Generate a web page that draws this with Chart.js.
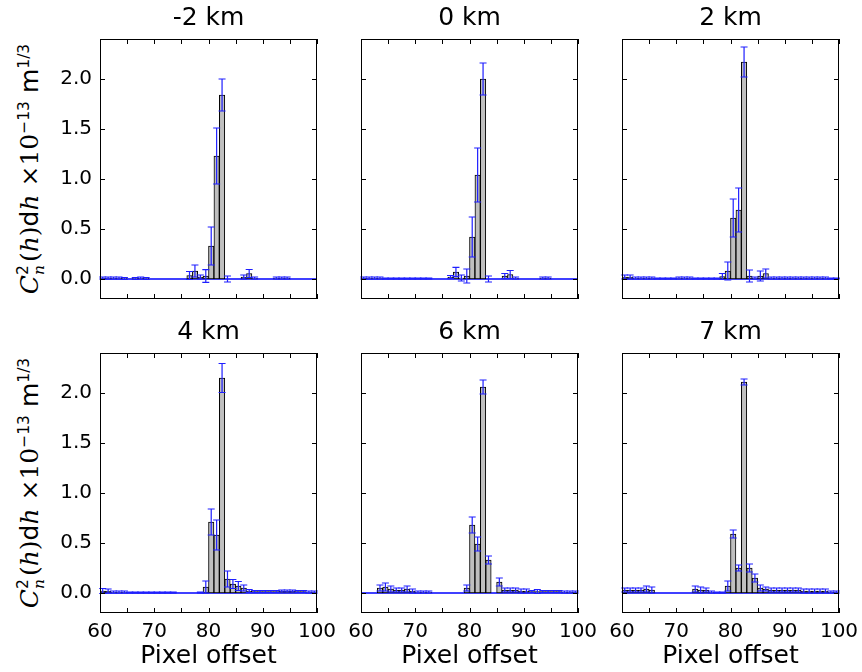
<!DOCTYPE html>
<html>
<head>
<meta charset="utf-8">
<script src="https://cdn.jsdelivr.net/npm/chart.js@4.4.0/dist/chart.umd.min.js"></script>
<style>
html, body { margin: 0; padding: 0; background: #fff; overflow: hidden; }
#wrap { position: relative; width: 862px; height: 672px; }
#wrap canvas { position: absolute; }
.ylab {
    position: absolute;
    font-family: 'DejaVu Sans', sans-serif;
    font-size: 25px;
    color: #000;
    white-space: nowrap;
    transform: translate(-50%, -50%) rotate(-90deg);
}
.ylab .m { font-family: 'DejaVu Serif', serif; }
.ylab .ss { display: inline-flex; flex-direction: column; font-size: 0.62em; line-height: 1; vertical-align: 10px; margin-right: 3px; }
.ylab sup { font-size: 0.62em; }
</style>
</head>
<body>
<div id="wrap">
    <div class="ylab" style="left:31px; top:169px;"><i class="m">C</i><span class="ss"><span>2</span><i class="m">n</i></span><span class="m">(<i>h</i>)</span>d<i class="m">h</i> <span class="m">×10</span><sup>−13</sup> m<sup>1/3</sup></div>
    <div class="ylab" style="left:31px; top:483px;"><i class="m">C</i><span class="ss"><span>2</span><i class="m">n</i></span><span class="m">(<i>h</i>)</span>d<i class="m">h</i> <span class="m">×10</span><sup>−13</sup> m<sup>1/3</sup></div>
</div>
<script>
// bin centres (pixel offset), 1 px bins from 60 to 100
const binCenters = [60.5, 61.5, 62.5, 63.5, 64.5, 65.5, 66.5, 67.5, 68.5, 69.5,
    70.5, 71.5, 72.5, 73.5, 74.5, 75.5, 76.5, 77.5, 78.5, 79.5,
    80.5, 81.5, 82.5, 83.5, 84.5, 85.5, 86.5, 87.5, 88.5, 89.5,
    90.5, 91.5, 92.5, 93.5, 94.5, 95.5, 96.5, 97.5, 98.5, 99.5];

const titles = ['-2 km', '0 km', '2 km', '4 km', '6 km', '7 km'];

const xTicks = [60, 65, 70, 75, 80, 85, 90, 95, 100];
const yTicks = [0, 0.5, 1.0, 1.5, 2.0];
const zeroLine = [{ x: 60, y: 0 }, { x: 100, y: 0 }];

const valsM2 = [0.01, 0.01, 0.01, 0.01, 0.005, 0, 0.005, 0.01, 0.005, 0,
    0, 0, 0, 0, 0, 0, 0.035, 0.08, 0.02, 0.03,
    0.33, 1.23, 1.84, 0, 0, 0, 0.02, 0.055, 0.01, 0,
    0, 0, 0.01, 0.01, 0.01, 0, 0, 0, 0, 0];
const errsM2 = [0.01, 0.01, 0.01, 0.01, 0.01, 0, 0.01, 0.01, 0.01, 0,
    0, 0, 0, 0, 0, 0, 0.04, 0.06, 0.02, 0.063,
    0.19, 0.28, 0.16, 0.03, 0, 0, 0.02, 0.04, 0.01, 0,
    0, 0, 0.01, 0.01, 0.01, 0, 0, 0, 0, 0];

const vals0 = [0.01, 0.01, 0.01, 0.01, 0.005, 0.005, 0.005, 0.005, 0.005, 0.005,
    0.005, 0.005, 0.005, 0, 0, 0, 0.02, 0.07, 0.01, 0.03,
    0.42, 1.04, 2.00, 0, 0, 0, 0.03, 0.045, 0.01, 0,
    0, 0, 0, 0.01, 0.01, 0, 0, 0, 0, 0];
const errs0 = [0.01, 0.01, 0.01, 0.01, 0.005, 0.005, 0.005, 0.005, 0.005, 0.005,
    0.005, 0.005, 0.005, 0, 0, 0, 0.015, 0.047, 0.03, 0.07,
    0.2, 0.27, 0.16, 0.03, 0, 0, 0.025, 0.04, 0.01, 0,
    0, 0, 0, 0.01, 0.01, 0, 0, 0, 0, 0];

const vals2 = [0.02, 0.02, 0.01, 0.01, 0.01, 0.01, 0.005, 0.005, 0.005, 0.005,
    0.01, 0.01, 0.01, 0.005, 0.005, 0.005, 0.005, 0.005, 0.025, 0.08,
    0.61, 0.69, 2.17, 0.03, 0.01, 0.03, 0.055, 0.01, 0.01, 0.01,
    0.01, 0.01, 0.01, 0.01, 0.01, 0.01, 0.01, 0.01, 0.005, 0.005];
const errs2 = [0.02, 0.02, 0.01, 0.01, 0.01, 0.01, 0.005, 0.005, 0.005, 0.005,
    0.01, 0.01, 0.01, 0.005, 0.005, 0.005, 0.005, 0.005, 0.03, 0.09,
    0.19, 0.22, 0.15, 0.06, 0.01, 0.05, 0.045, 0.01, 0.01, 0.01,
    0.01, 0.01, 0.01, 0.01, 0.01, 0.01, 0.01, 0.01, 0.005, 0.005];

const vals4 = [0.02, 0.02, 0.01, 0.01, 0.01, 0.005, 0.005, 0.005, 0.005, 0.005,
    0.005, 0.005, 0.005, 0.005, 0, 0, 0, 0, 0.005, 0.06,
    0.71, 0.58, 2.15, 0.14, 0.09, 0.07, 0.05, 0.02, 0.015, 0.015,
    0.015, 0.015, 0.015, 0.02, 0.02, 0.02, 0.015, 0.015, 0.01, 0.01];
const errs4 = [0.025, 0.02, 0.01, 0.01, 0.01, 0.005, 0.005, 0.005, 0.005, 0.005,
    0.005, 0.005, 0.005, 0.005, 0, 0, 0, 0, 0.005, 0.06,
    0.13, 0.15, 0.145, 0.08, 0.045, 0.045, 0.03, 0.015, 0.01, 0.01,
    0.01, 0.01, 0.01, 0.01, 0.01, 0.01, 0.01, 0.01, 0.01, 0.01];

const vals6 = [0, 0, 0, 0.05, 0.06, 0.04, 0.03, 0.03, 0.04, 0.02,
    0.01, 0.01, 0.01, 0, 0, 0, 0, 0, 0, 0.05,
    0.68, 0.49, 2.06, 0.33, 0, 0.11, 0.03, 0.03, 0.03, 0.02,
    0.02, 0.015, 0.015, 0.015, 0.015, 0.015, 0.015, 0.01, 0.01, 0.01];
const errs6 = [0, 0, 0, 0.03, 0.04, 0.03, 0.02, 0.02, 0.03, 0.02,
    0.01, 0.01, 0.01, 0, 0, 0, 0, 0, 0, 0.03,
    0.08, 0.07, 0.07, 0.04, 0, 0.04, 0.02, 0.02, 0.02, 0.02,
    0.02, 0.01, 0.02, 0.01, 0.01, 0.01, 0.01, 0.01, 0.01, 0.01];

const vals7 = [0.03, 0.03, 0.03, 0.03, 0.04, 0.03, 0, 0, 0, 0,
    0, 0, 0, 0.04, 0.03, 0.03, 0.01, 0.005, 0.005, 0.07,
    0.59, 0.25, 2.11, 0.25, 0.15, 0.05, 0.04, 0.03, 0.03, 0.03,
    0.03, 0.03, 0.03, 0.02, 0.02, 0.02, 0.02, 0.02, 0.01, 0.01];
const errs7 = [0.02, 0.02, 0.02, 0.02, 0.03, 0.03, 0, 0, 0, 0,
    0, 0, 0, 0.03, 0.03, 0.02, 0.01, 0.005, 0.005, 0.05,
    0.04, 0.03, 0.03, 0.04, 0.04, 0.03, 0.02, 0.02, 0.02, 0.02,
    0.02, 0.02, 0.02, 0.02, 0.02, 0.02, 0.02, 0.02, 0.01, 0.01];

const panelVals = [valsM2, vals0, vals2, vals4, vals6, vals7];
const panelErrs = [errsM2, errs0, errs2, errs4, errs6, errs7];

// layout of the plot boxes in page pixels
const colLeft = [100, 361, 622];
const rowTop = [39, 353];
const plotW = 217, plotH = 260;
const padL = 60, padR = 30, padT = 42;

const errorBars = {
    id: 'errorBars',
    afterDatasetsDraw(chart) {
        const meta = chart.getDatasetMeta(0);
        const ds = chart.data.datasets[0];
        const y = chart.scales.y;
        const ctx = chart.ctx;
        ctx.save();
        ctx.strokeStyle = '#1f1fff';
        ctx.lineWidth = 1.2;
        meta.data.forEach((bar, i) => {
            const e = ds.errors[i];
            if (!e) return;
            const v = ds.data[i].y;
            const yt = y.getPixelForValue(v + e);
            const yb = y.getPixelForValue(v - e);
            ctx.beginPath();
            ctx.moveTo(bar.x, yt);
            ctx.lineTo(bar.x, yb);
            ctx.moveTo(bar.x - 3.5, yt);
            ctx.lineTo(bar.x + 3.5, yt);
            ctx.moveTo(bar.x - 3.5, yb);
            ctx.lineTo(bar.x + 3.5, yb);
            ctx.stroke();
        });
        ctx.restore();
    }
};

// matplotlib-style frame with inward ticks on all four sides
const frameTicks = {
    id: 'frameTicks',
    afterDraw(chart) {
        const { ctx, chartArea: a } = chart;
        const xs = chart.scales.x, ys = chart.scales.y;
        ctx.save();
        ctx.strokeStyle = '#000';
        ctx.lineWidth = 1;
        ctx.strokeRect(a.left + 0.5, a.top + 0.5, a.right - a.left - 1, a.bottom - a.top - 1);
        ctx.beginPath();
        xs.ticks.forEach(t => {
            const px = Math.round(xs.getPixelForValue(t.value)) + 0.5;
            ctx.moveTo(px, a.bottom);
            ctx.lineTo(px, a.bottom - 5);
            ctx.moveTo(px, a.top);
            ctx.lineTo(px, a.top + 5);
        });
        ys.ticks.forEach(t => {
            const py = Math.round(ys.getPixelForValue(t.value)) + 0.5;
            ctx.moveTo(a.left, py);
            ctx.lineTo(a.left + 5, py);
            ctx.moveTo(a.right, py);
            ctx.lineTo(a.right - 5, py);
        });
        ctx.stroke();
        ctx.restore();
    }
};

function makePanel(idx) {
    const col = idx % 3, row = Math.floor(idx / 3);
    const bottom = row === 1 ? 60 : 12;
    const canvas = document.createElement('canvas');
    const w = padL + plotW + padR, h = padT + plotH + bottom;
    canvas.width = w;
    canvas.height = h;
    canvas.style.left = (colLeft[col] - padL) + 'px';
    canvas.style.top = (rowTop[row] - padT) + 'px';
    canvas.style.width = w + 'px';
    canvas.style.height = h + 'px';
    document.getElementById('wrap').appendChild(canvas);

    const vals = panelVals[idx];
    new Chart(canvas, {
        type: 'bar',
        data: {
            datasets: [{
                type: 'bar',
                data: vals.map((v, i) => ({ x: binCenters[i], y: v })),
                errors: panelErrs[idx],
                backgroundColor: '#bfbfbf',
                borderColor: '#000',
                borderWidth: 1,
                borderSkipped: false,
                barPercentage: 1,
                categoryPercentage: 1,
                order: 1
            }, {
                type: 'line',
                data: zeroLine,
                borderColor: '#0000ff',
                borderWidth: 1.5,
                pointRadius: 0,
                order: 2
            }]
        },
        options: {
            responsive: false,
            maintainAspectRatio: false,
            animation: false,
            layout: { padding: { left: 0, top: 0, bottom: 0, right: padR } },
            plugins: {
                legend: { display: false },
                tooltip: { enabled: false },
                title: {
                    display: true,
                    fullSize: false,
                    text: titles[idx],
                    color: '#000',
                    font: { family: 'DejaVu Sans', size: 25, weight: 'normal' },
                    padding: { top: 6, bottom: 6 }
                }
            },
            scales: {
                x: {
                    type: 'linear',
                    min: 60,
                    max: 100,
                    offset: false,
                    grid: { display: false, drawTicks: false },
                    border: { display: false },
                    afterBuildTicks: s => { s.ticks = xTicks.map(v => ({ value: v })); },
                    afterFit: s => { s.height = bottom; s.paddingLeft = 0; s.paddingRight = 0; },
                    ticks: {
                        display: row === 1,
                        autoSkip: false,
                        maxRotation: 0,
                        padding: 7,
                        color: '#000',
                        font: { family: 'DejaVu Sans', size: 20 },
                        callback: v => (v % 10 === 0 ? String(v) : '')
                    },
                    title: {
                        display: row === 1,
                        text: 'Pixel offset',
                        color: '#000',
                        font: { family: 'DejaVu Sans', size: 25 },
                        padding: { top: 0, bottom: 2 }
                    }
                },
                y: {
                    min: -0.2,
                    max: 2.4,
                    grid: { display: false, drawTicks: false },
                    border: { display: false },
                    afterBuildTicks: s => { s.ticks = yTicks.map(v => ({ value: v })); },
                    afterFit: s => { s.width = padL; s.paddingTop = 0; s.paddingBottom = 0; },
                    ticks: {
                        display: col === 0,
                        padding: 8,
                        color: '#000',
                        font: { family: 'DejaVu Sans', size: 20 },
                        callback: v => v.toFixed(1)
                    }
                }
            }
        },
        plugins: [errorBars, frameTicks]
    });
}

for (let i = 0; i < titles.length; i++) makePanel(i);
</script>
</body>
</html>
